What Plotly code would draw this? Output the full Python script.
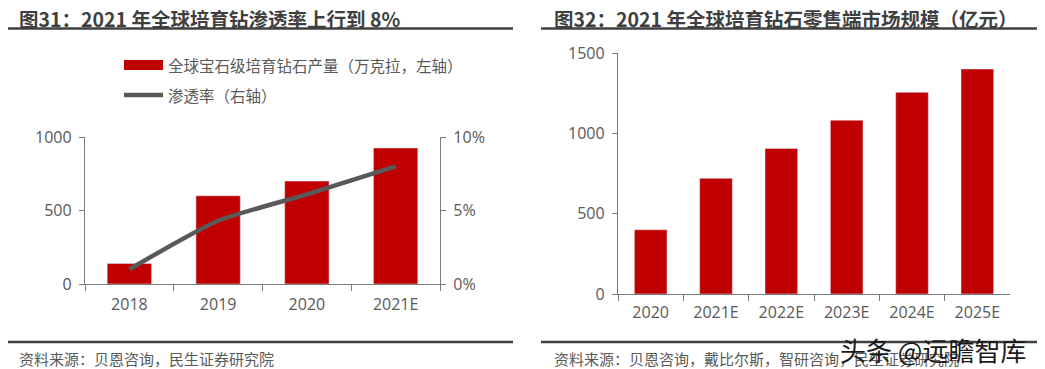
import plotly.graph_objects as go

# ---------------- data ----------------
years_left = ["2018", "2019", "2020", "2021E"]
production = [140, 600, 700, 925]          # 万克拉 (left axis)
penetration = [0.010, 0.043, 0.061, 0.080]  # 渗透率 (right axis)

years_right = ["2020", "2021E", "2022E", "2023E", "2024E", "2025E"]
retail_size = [400, 720, 906, 1082, 1255, 1400]  # 亿元

title_left = "图31：2021 年全球培育钻渗透率上行到 8%"
title_right = "图32：2021 年全球培育钻石零售端市场规模（亿元）"
legend_bar = "全球宝石级培育钻石产量（万克拉，左轴）"
legend_line = "渗透率（右轴）"
source_left = "资料来源：贝恩咨询，民生证券研究院"
source_right = "资料来源：贝恩咨询，戴比尔斯，智研咨询，民生证券研究院"
watermark = "头条 @远瞻智库"

# ---------------- style ----------------
W, H = 1045, 369
OX, OY = 8, 8  # page body margin offset
RED = "#C00000"
LINE = "#595959"
AX = "#7a7a7a"
TXT = "#595959"
TITLE = "#3f3f3f"
FONT = "Noto Sans CJK SC"
TICKFONT = dict(family="Open Sans, Noto Sans CJK SC", size=16, color=TXT)


def px(x):
    return (x - OX) / W


def py(y):
    return 1 - (y - OY) / H


fig = go.Figure()

fig.add_trace(go.Bar(x=years_left, y=production, marker_color=RED, width=0.5,
                     xaxis="x", yaxis="y", name=legend_bar, showlegend=False))
fig.add_trace(go.Scatter(x=years_left, y=penetration, mode="lines",
                         line=dict(color=LINE, width=4.5, shape="spline", smoothing=0.6),
                         xaxis="x", yaxis="y2", name=legend_line, showlegend=False))
fig.add_trace(go.Bar(x=years_right, y=retail_size, marker_color=RED, width=0.5,
                     xaxis="x3", yaxis="y3", showlegend=False))

common_x = dict(type="category", showline=True, linecolor=AX, linewidth=1.3,
                ticks="outside", ticklen=6, tickcolor=AX, tickson="boundaries",
                showgrid=False, zeroline=False, tickfont=TICKFONT, fixedrange=True,
                automargin=False)
common_y = dict(showline=True, linecolor=AX, linewidth=1.3, ticks="outside",
                ticklen=5, tickcolor=AX, showgrid=False, zeroline=False,
                tickfont=TICKFONT, fixedrange=True, automargin=False)

fig.update_layout(
    width=W, height=H,
    margin=dict(l=0, r=0, t=0, b=0, pad=0, autoexpand=False),
    paper_bgcolor="white", plot_bgcolor="white",
    xaxis=dict(common_x, domain=[px(85), px(440)], range=[-0.5, 3.5],
               anchor="y", ticklabelstandoff=6),
    yaxis=dict(common_y, domain=[py(284), py(137)], range=[0, 1000], dtick=500,
               anchor="x", ticklabelstandoff=4),
    yaxis2=dict(common_y, overlaying="y", side="right", range=[0, 0.1],
                dtick=0.05, tickformat=".0%", anchor="x", ticklabelstandoff=4),
    xaxis3=dict(common_x, domain=[px(618), px(1010)], range=[-0.5, 5.5],
                anchor="y3", ticklabelstandoff=4),
    yaxis3=dict(common_y, domain=[py(294), py(53)], range=[0, 1500], dtick=500,
                anchor="x3", ticklabelstandoff=4),
    showlegend=False,
)

shapes = []
annotations = []

# titles with underlines
for x0, x1, xt, text in [(7, 513, 18, title_left), (541, 1045, 553, title_right)]:
    annotations.append(dict(x=px(xt), y=py(18), xref="paper", yref="paper",
                            xanchor="left", yanchor="middle", showarrow=False,
                            text="<b>" + text + "</b>", borderpad=0,
                            font=dict(family=FONT, size=19.5, color=TITLE)))
    shapes.append(dict(type="line", xref="paper", yref="paper",
                       x0=px(x0), x1=px(x1), y0=py(28.5), y1=py(28.5),
                       line=dict(color="#404040", width=2.5)))

# source lines
for x0, x1, xt, text in [(7, 513, 17, source_left), (541, 1045, 552, source_right)]:
    shapes.append(dict(type="line", xref="paper", yref="paper",
                       x0=px(x0), x1=px(x1), y0=py(342), y1=py(342),
                       line=dict(color="#404040", width=2.5)))
    annotations.append(dict(x=px(xt), y=py(358), xref="paper", yref="paper",
                            xanchor="left", yanchor="middle", showarrow=False,
                            text=text, font=dict(family=FONT, size=15, color=TXT)))

# manual legend
shapes.append(dict(type="rect", xref="paper", yref="paper",
                   x0=px(124), x1=px(163), y0=py(70), y1=py(60),
                   fillcolor=RED, line=dict(width=0)))
shapes.append(dict(type="line", xref="paper", yref="paper",
                   x0=px(124), x1=px(163), y0=py(95), y1=py(95),
                   line=dict(color=LINE, width=4.5)))
annotations.append(dict(x=px(166), y=py(65), xref="paper", yref="paper",
                        xanchor="left", yanchor="middle", showarrow=False,
                        text=legend_bar, font=dict(family=FONT, size=15.5, color=TXT)))
annotations.append(dict(x=px(166), y=py(95), xref="paper", yref="paper",
                        xanchor="left", yanchor="middle", showarrow=False,
                        text=legend_line, font=dict(family=FONT, size=15.5, color=TXT)))

# watermark
annotations.append(dict(x=px(838), y=py(349), xref="paper", yref="paper",
                        xanchor="left", yanchor="middle", showarrow=False,
                        text=watermark,
                        font=dict(family=FONT, size=26, color="#1a1a1a")))

fig.update_layout(shapes=shapes, annotations=annotations)

fig.write_html("out.html")
